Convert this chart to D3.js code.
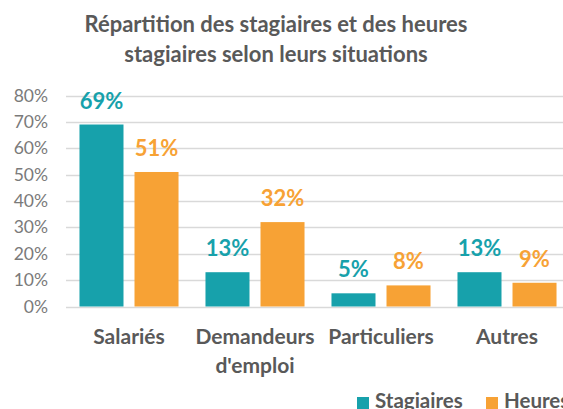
<!DOCTYPE html>
<html>
<head>
<meta charset="utf-8">
<script src="https://cdn.jsdelivr.net/npm/d3@7"></script>
<style>
  body { margin: 0; background: #fff; overflow: hidden; }
  svg { display: block; font-family: Lato, "Open Sans", sans-serif; }
</style>
</head>
<body>
<svg id="chart" width="563" height="409"></svg>
<script>
// data
const categories = [["Salariés"], ["Demandeurs", "d'emploi"], ["Particuliers"], ["Autres"]];
const seriesNames = ["Stagiaires", "Heures"];
const stagiaires = [0.69, 0.13, 0.05, 0.13];
const heures = [0.51, 0.32, 0.08, 0.09];
const yTicks = [0, 0.1, 0.2, 0.3, 0.4, 0.5, 0.6, 0.7, 0.8];
const titleLines = ["Répartition des stagiaires et des heures", "stagiaires selon leurs situations"];

const colors = ["#17A1AB", "#F7A235"];
const svg = d3.select("#chart");

const x = d3.scaleBand().domain(d3.range(categories.length)).range([66, 570]);
const inner = d3.scaleBand().domain([0, 1]).range([0, x.bandwidth()]).paddingInner(0.2).paddingOuter(0.245);
const y = d3.scaleLinear().domain([0, 0.8]).range([306.5, 95.5]);

// title
svg.append("g").selectAll("text")
  .data(titleLines)
  .join("text")
  .attr("x", 276)
  .attr("y", (d, i) => 32 + i * 30)
  .attr("text-anchor", "middle")
  .style("font-size", "22px")
  .style("font-weight", "bold")
  .style("fill", "#595959")
  .text(d => d);

// gridlines
svg.append("g").selectAll("line")
  .data(yTicks)
  .join("line")
  .attr("x1", 66).attr("x2", 570)
  .attr("y1", d => Math.round(y(d)) + 0.5)
  .attr("y2", d => Math.round(y(d)) + 0.5)
  .style("stroke", "#D9D9D9")
  .style("stroke-width", 1.3);

// y axis labels
svg.append("g").selectAll("text")
  .data(yTicks)
  .join("text")
  .attr("x", 48)
  .attr("y", d => y(d) + 6)
  .attr("text-anchor", "end")
  .style("font-size", "17.5px")
  .style("fill", "#7A7A7A")
  .text(d => d3.format(".0%")(d));

// bars
const allSeries = [stagiaires, heures];
allSeries.forEach(function (vals, s) {
  const g = svg.append("g");
  g.selectAll("rect")
    .data(vals)
    .join("rect")
    .attr("x", (d, i) => x(i) + inner(s))
    .attr("width", inner.bandwidth())
    .attr("y", d => y(d))
    .attr("height", d => y(0) - y(d))
    .style("fill", colors[s]);
  g.selectAll("text")
    .data(vals)
    .join("text")
    .attr("x", (d, i) => x(i) + inner(s) + inner.bandwidth() / 2)
    .attr("y", d => y(d) - 16)
    .attr("text-anchor", "middle")
    .style("font-size", "22px")
    .style("font-weight", "bold")
    .style("fill", colors[s])
    .text(d => d3.format(".0%")(d));
});

// category labels
svg.append("g").selectAll("text")
  .data(categories)
  .join("text")
  .attr("x", (d, i) => x(i) + x.bandwidth() / 2)
  .attr("y", 344)
  .attr("text-anchor", "middle")
  .style("font-size", "21px")
  .style("font-weight", "bold")
  .style("fill", "#595959")
  .selectAll("tspan")
  .data(d => d)
  .join("tspan")
  .attr("x", function () { return d3.select(this.parentNode).attr("x"); })
  .attr("dy", (d, i) => i === 0 ? 0 : 29)
  .text(d => d);

// legend
const legendX = [357, 486];
const legend = svg.append("g").selectAll("g")
  .data(seriesNames)
  .join("g")
  .attr("transform", (d, i) => `translate(${legendX[i]},0)`);
legend.append("rect")
  .attr("x", 0).attr("y", 397)
  .attr("width", 12).attr("height", 12)
  .style("fill", (d, i) => colors[i]);
legend.append("text")
  .attr("x", 18).attr("y", 408)
  .style("font-size", "20.5px")
  .style("font-weight", "bold")
  .style("fill", "#595959")
  .text(d => d);
</script>
</body>
</html>
